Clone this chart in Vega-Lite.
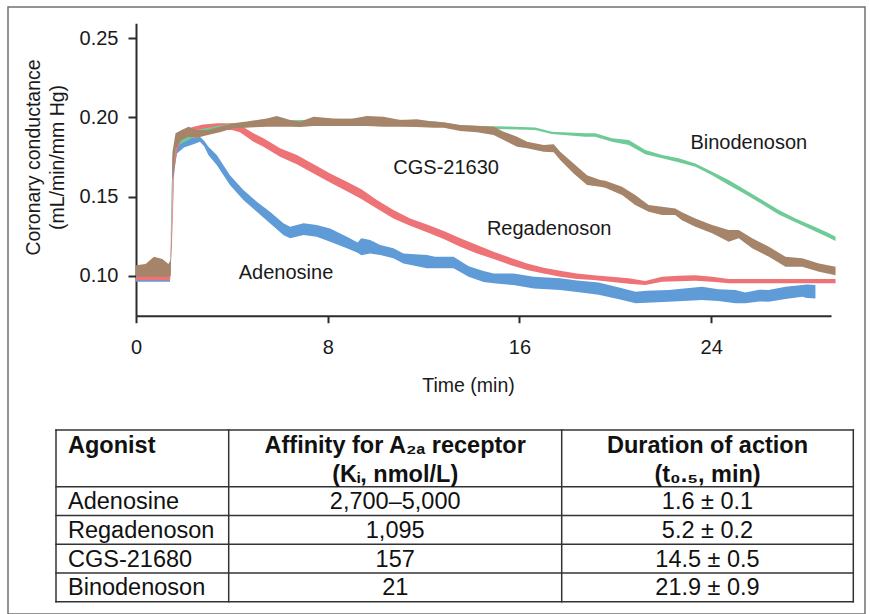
{
  "$schema": "https://vega.github.io/schema/vega-lite/v6.json",
  "width": 857,
  "height": 607,
  "autosize": {"type": "none"},
  "padding": {"left": 8, "top": 7, "right": 5, "bottom": 0},
  "background": "white",
  "config": {
    "font": "Liberation Sans",
    "view": {"stroke": "#707070", "strokeWidth": 1.5},
    "axis": {
      "grid": false,
      "domainColor": "#2b2b2b",
      "tickColor": "#2b2b2b",
      "domainWidth": 2,
      "tickWidth": 2,
      "labelColor": "#1a1a1a",
      "titleColor": "#1a1a1a",
      "labelFont": "Liberation Sans",
      "titleFont": "Liberation Sans",
      "labelFontSize": 20,
      "titleFontSize": 19.5,
      "titleFontWeight": "normal",
      "labelFlush": false
    },
    "text": {"font": "Liberation Sans"}
  },
  "datasets": {
    "adenosine": [
      {"t": 0, "lo": 0.0962, "hi": 0.0995},
      {"t": 1.0, "lo": 0.0962, "hi": 0.0995},
      {"t": 1.42, "lo": 0.0962, "hi": 0.0995},
      {"t": 1.55, "lo": 0.160, "hi": 0.172},
      {"t": 1.7, "lo": 0.177, "hi": 0.184},
      {"t": 2.0, "lo": 0.181, "hi": 0.187},
      {"t": 2.4, "lo": 0.183, "hi": 0.187},
      {"t": 2.67, "lo": 0.1846, "hi": 0.1877},
      {"t": 2.85, "lo": 0.1815, "hi": 0.1850},
      {"t": 3.02, "lo": 0.1762, "hi": 0.1814},
      {"t": 3.37, "lo": 0.1699, "hi": 0.1762},
      {"t": 3.92, "lo": 0.1572, "hi": 0.1635},
      {"t": 4.48, "lo": 0.1478, "hi": 0.1541},
      {"t": 5.04, "lo": 0.1404, "hi": 0.1467},
      {"t": 5.59, "lo": 0.1331, "hi": 0.1404},
      {"t": 6.15, "lo": 0.1257, "hi": 0.1331},
      {"t": 6.43, "lo": 0.1236, "hi": 0.1309},
      {"t": 6.99, "lo": 0.1257, "hi": 0.1331},
      {"t": 7.54, "lo": 0.1246, "hi": 0.1320},
      {"t": 8.1, "lo": 0.1215, "hi": 0.1299},
      {"t": 8.8, "lo": 0.1173, "hi": 0.1246},
      {"t": 9.25, "lo": 0.1145, "hi": 0.1210},
      {"t": 9.4, "lo": 0.1130, "hi": 0.1236},
      {"t": 9.77, "lo": 0.1141, "hi": 0.1225},
      {"t": 10.19, "lo": 0.1131, "hi": 0.1194},
      {"t": 10.74, "lo": 0.1110, "hi": 0.1173},
      {"t": 11.16, "lo": 0.1078, "hi": 0.1141},
      {"t": 12.14, "lo": 0.1047, "hi": 0.1131},
      {"t": 12.48, "lo": 0.1047, "hi": 0.1120},
      {"t": 13.25, "lo": 0.1047, "hi": 0.1120},
      {"t": 13.88, "lo": 0.0994, "hi": 0.1060},
      {"t": 14.5, "lo": 0.0960, "hi": 0.1030},
      {"t": 14.92, "lo": 0.0952, "hi": 0.1015},
      {"t": 15.75, "lo": 0.0941, "hi": 0.1015},
      {"t": 16.6, "lo": 0.0920, "hi": 0.0994},
      {"t": 17.7, "lo": 0.0910, "hi": 0.0984},
      {"t": 18.4, "lo": 0.0897, "hi": 0.0970},
      {"t": 19.3, "lo": 0.0880, "hi": 0.0957},
      {"t": 20.2, "lo": 0.0850, "hi": 0.0925},
      {"t": 20.85, "lo": 0.0826, "hi": 0.0899},
      {"t": 21.3, "lo": 0.0830, "hi": 0.0905},
      {"t": 22.23, "lo": 0.0836, "hi": 0.0910},
      {"t": 23.62, "lo": 0.0847, "hi": 0.0931},
      {"t": 24.3, "lo": 0.0840, "hi": 0.0915},
      {"t": 25.01, "lo": 0.0826, "hi": 0.0910},
      {"t": 25.43, "lo": 0.0826, "hi": 0.0895},
      {"t": 26.0, "lo": 0.0838, "hi": 0.0912},
      {"t": 26.4, "lo": 0.0836, "hi": 0.0910},
      {"t": 27.1, "lo": 0.0853, "hi": 0.0931},
      {"t": 27.8, "lo": 0.0867, "hi": 0.0941},
      {"t": 28.0, "lo": 0.0860, "hi": 0.0945},
      {"t": 28.35, "lo": 0.0857, "hi": 0.0941}
    ],
    "regadenoson": [
      {"t": 0, "lo": 0.0972, "hi": 0.1000},
      {"t": 1.0, "lo": 0.0972, "hi": 0.1000},
      {"t": 1.42, "lo": 0.0972, "hi": 0.1000},
      {"t": 1.5, "lo": 0.120, "hi": 0.135},
      {"t": 1.6, "lo": 0.168, "hi": 0.180},
      {"t": 1.75, "lo": 0.181, "hi": 0.188},
      {"t": 2.0, "lo": 0.186, "hi": 0.192},
      {"t": 2.4, "lo": 0.189, "hi": 0.194},
      {"t": 2.8, "lo": 0.1915, "hi": 0.1955},
      {"t": 3.4, "lo": 0.1920, "hi": 0.1962},
      {"t": 4.0, "lo": 0.1920, "hi": 0.1962},
      {"t": 4.34, "lo": 0.1905, "hi": 0.1951},
      {"t": 4.9, "lo": 0.1846, "hi": 0.1899},
      {"t": 5.32, "lo": 0.1814, "hi": 0.1867},
      {"t": 6.01, "lo": 0.1751, "hi": 0.1804},
      {"t": 6.71, "lo": 0.1703, "hi": 0.1762},
      {"t": 7.41, "lo": 0.1646, "hi": 0.1703},
      {"t": 8.1, "lo": 0.1589, "hi": 0.1646},
      {"t": 8.8, "lo": 0.1534, "hi": 0.1593},
      {"t": 9.42, "lo": 0.1483, "hi": 0.1544},
      {"t": 10.05, "lo": 0.1425, "hi": 0.1478},
      {"t": 10.74, "lo": 0.1362, "hi": 0.1415},
      {"t": 11.44, "lo": 0.1316, "hi": 0.1362},
      {"t": 12.14, "lo": 0.1274, "hi": 0.1324},
      {"t": 12.84, "lo": 0.1232, "hi": 0.1282},
      {"t": 13.53, "lo": 0.1183, "hi": 0.1236},
      {"t": 14.23, "lo": 0.1141, "hi": 0.1194},
      {"t": 14.92, "lo": 0.1105, "hi": 0.1151},
      {"t": 15.62, "lo": 0.1068, "hi": 0.1114},
      {"t": 16.32, "lo": 0.1036, "hi": 0.1078},
      {"t": 17.01, "lo": 0.1015, "hi": 0.1050},
      {"t": 17.7, "lo": 0.0994, "hi": 0.1032},
      {"t": 18.4, "lo": 0.0979, "hi": 0.1015},
      {"t": 19.1, "lo": 0.0973, "hi": 0.1004},
      {"t": 20.56, "lo": 0.0950, "hi": 0.0984},
      {"t": 21.25, "lo": 0.0941, "hi": 0.0967},
      {"t": 21.95, "lo": 0.0962, "hi": 0.0994},
      {"t": 22.64, "lo": 0.0966, "hi": 0.1000},
      {"t": 23.34, "lo": 0.0968, "hi": 0.1004},
      {"t": 24.04, "lo": 0.0962, "hi": 0.0994},
      {"t": 24.73, "lo": 0.0952, "hi": 0.0979},
      {"t": 26.13, "lo": 0.0952, "hi": 0.0979},
      {"t": 27.52, "lo": 0.0952, "hi": 0.0979},
      {"t": 29.19, "lo": 0.0952, "hi": 0.0979}
    ],
    "binodenoson": [
      {"t": 0, "lo": 0.1000, "hi": 0.1050},
      {"t": 1.42, "lo": 0.1000, "hi": 0.1050},
      {"t": 1.52, "lo": 0.165, "hi": 0.175},
      {"t": 1.7, "lo": 0.182, "hi": 0.188},
      {"t": 2.5, "lo": 0.188, "hi": 0.192},
      {"t": 4.0, "lo": 0.193, "hi": 0.196},
      {"t": 6.0, "lo": 0.195, "hi": 0.198},
      {"t": 9.0, "lo": 0.196, "hi": 0.199},
      {"t": 11.0, "lo": 0.1955, "hi": 0.1985},
      {"t": 12.5, "lo": 0.1945, "hi": 0.1975},
      {"t": 13.5, "lo": 0.1928, "hi": 0.1950},
      {"t": 14.3, "lo": 0.1928, "hi": 0.1945},
      {"t": 15.5, "lo": 0.1925, "hi": 0.1942},
      {"t": 16.66, "lo": 0.1919, "hi": 0.1936},
      {"t": 17.35, "lo": 0.1894, "hi": 0.1909},
      {"t": 18.75, "lo": 0.1877, "hi": 0.1899},
      {"t": 19.16, "lo": 0.1877, "hi": 0.1899},
      {"t": 19.86, "lo": 0.1846, "hi": 0.1867},
      {"t": 20.56, "lo": 0.1825, "hi": 0.1856},
      {"t": 21.25, "lo": 0.1766, "hi": 0.1793},
      {"t": 21.95, "lo": 0.1741, "hi": 0.1762},
      {"t": 22.64, "lo": 0.1716, "hi": 0.1741},
      {"t": 23.34, "lo": 0.1688, "hi": 0.1709},
      {"t": 24.04, "lo": 0.1635, "hi": 0.1656},
      {"t": 24.73, "lo": 0.1572, "hi": 0.1604},
      {"t": 25.43, "lo": 0.1514, "hi": 0.1541},
      {"t": 26.13, "lo": 0.1451, "hi": 0.1478},
      {"t": 26.82, "lo": 0.1387, "hi": 0.1415},
      {"t": 27.52, "lo": 0.1337, "hi": 0.1362},
      {"t": 28.22, "lo": 0.1288, "hi": 0.1316},
      {"t": 28.92, "lo": 0.1240, "hi": 0.1268},
      {"t": 29.19, "lo": 0.1219, "hi": 0.1246}
    ],
    "cgs": [
      {"t": 0, "lo": 0.0994, "hi": 0.1066},
      {"t": 0.4, "lo": 0.0994, "hi": 0.1075},
      {"t": 0.75, "lo": 0.0994, "hi": 0.1120},
      {"t": 1.1, "lo": 0.0994, "hi": 0.1105},
      {"t": 1.35, "lo": 0.0994, "hi": 0.1075},
      {"t": 1.45, "lo": 0.1000, "hi": 0.1100},
      {"t": 1.52, "lo": 0.160, "hi": 0.178},
      {"t": 1.65, "lo": 0.180, "hi": 0.190},
      {"t": 1.9, "lo": 0.1857, "hi": 0.1920},
      {"t": 2.2, "lo": 0.1877, "hi": 0.1940},
      {"t": 2.5, "lo": 0.1870, "hi": 0.1920},
      {"t": 3.0, "lo": 0.1888, "hi": 0.1920},
      {"t": 3.5, "lo": 0.1905, "hi": 0.1940},
      {"t": 4.06, "lo": 0.1930, "hi": 0.1962},
      {"t": 4.7, "lo": 0.1935, "hi": 0.1975},
      {"t": 5.46, "lo": 0.1940, "hi": 0.1993},
      {"t": 5.87, "lo": 0.1940, "hi": 0.2008},
      {"t": 6.4, "lo": 0.1940, "hi": 0.1985},
      {"t": 6.85, "lo": 0.1938, "hi": 0.1972},
      {"t": 7.41, "lo": 0.1945, "hi": 0.2003},
      {"t": 8.24, "lo": 0.1945, "hi": 0.1993},
      {"t": 9.0, "lo": 0.1945, "hi": 0.1990},
      {"t": 9.63, "lo": 0.1945, "hi": 0.2008},
      {"t": 10.33, "lo": 0.1940, "hi": 0.2003},
      {"t": 11.02, "lo": 0.1940, "hi": 0.1983},
      {"t": 11.72, "lo": 0.1938, "hi": 0.1987},
      {"t": 12.41, "lo": 0.1934, "hi": 0.1972},
      {"t": 12.84, "lo": 0.1934, "hi": 0.1968},
      {"t": 13.53, "lo": 0.1913, "hi": 0.1951},
      {"t": 14.23, "lo": 0.1905, "hi": 0.1947},
      {"t": 14.92, "lo": 0.1888, "hi": 0.1940},
      {"t": 15.34, "lo": 0.1856, "hi": 0.1909},
      {"t": 15.9, "lo": 0.1814, "hi": 0.1877},
      {"t": 16.32, "lo": 0.1804, "hi": 0.1846},
      {"t": 17.01, "lo": 0.1782, "hi": 0.1825},
      {"t": 17.43, "lo": 0.1780, "hi": 0.1830},
      {"t": 17.7, "lo": 0.1730, "hi": 0.1782},
      {"t": 18.26, "lo": 0.1646, "hi": 0.1709},
      {"t": 18.82, "lo": 0.1572, "hi": 0.1635},
      {"t": 19.37, "lo": 0.1562, "hi": 0.1604},
      {"t": 19.58, "lo": 0.1555, "hi": 0.1600},
      {"t": 20.28, "lo": 0.1509, "hi": 0.1562},
      {"t": 20.83, "lo": 0.1446, "hi": 0.1509},
      {"t": 21.39, "lo": 0.1404, "hi": 0.1446},
      {"t": 21.95, "lo": 0.1383, "hi": 0.1435},
      {"t": 22.5, "lo": 0.1383, "hi": 0.1425},
      {"t": 22.78, "lo": 0.1350, "hi": 0.1400},
      {"t": 23.34, "lo": 0.1309, "hi": 0.1362},
      {"t": 24.04, "lo": 0.1268, "hi": 0.1320},
      {"t": 24.73, "lo": 0.1215, "hi": 0.1288},
      {"t": 25.15, "lo": 0.1236, "hi": 0.1288},
      {"t": 25.71, "lo": 0.1173, "hi": 0.1236},
      {"t": 26.41, "lo": 0.1120, "hi": 0.1183},
      {"t": 27.1, "lo": 0.1057, "hi": 0.1120},
      {"t": 27.8, "lo": 0.1057, "hi": 0.1110},
      {"t": 28.5, "lo": 0.1025, "hi": 0.1078},
      {"t": 29.19, "lo": 0.1004, "hi": 0.1057}
    ],
    "labels": [
      {"t": 6.26, "v": 0.1020, "label": "Adenosine"},
      {"t": 12.94, "v": 0.1682, "label": "CGS-21630"},
      {"t": 17.24, "v": 0.1297, "label": "Regadenoson"},
      {"t": 25.57, "v": 0.1840, "label": "Binodenoson"}
    ],
    "table": [
      {"r": 0, "agonist": "Agonist", "affinity": "Affinity for A₂ₐ receptor\n(Kᵢ, nmol/L)", "duration": "Duration of action\n(t₀.₅, min)"},
      {"r": 1, "agonist": "Adenosine", "affinity": "2,700–5,000", "duration": "1.6 ± 0.1"},
      {"r": 2, "agonist": "Regadenoson", "affinity": "1,095", "duration": "5.2 ± 0.2"},
      {"r": 3, "agonist": "CGS-21680", "affinity": "157", "duration": "14.5 ± 0.5"},
      {"r": 4, "agonist": "Binodenoson", "affinity": "21", "duration": "21.9 ± 0.9"}
    ]
  },
  "layer": [
    {
      "layer": [
        {
          "data": {"name": "adenosine"},
          "mark": {"type": "area", "color": "#5f9bd7"},
          "encoding": {
            "x": {
              "field": "t", "type": "quantitative",
              "scale": {"domain": [0, 29.0], "range": [128, 823], "nice": false, "zero": false},
              "axis": {
                "values": [0, 8, 16, 24], "format": "d", "offset": -298.3,
                "tickSize": 7, "labelPadding": 15,
                "title": "Time (min)", "titleX": 460, "titleY": 75.3,
                "titleBaseline": "alphabetic", "titleAlign": "center"
              }
            },
            "y": {
              "field": "hi", "type": "quantitative",
              "scale": {"domain": [0.0748, 0.2593], "range": [308.7, 16.3], "nice": false, "zero": false},
              "axis": {
                "values": [0.10, 0.15, 0.20, 0.25], "format": ".2f", "offset": -128,
                "tickSize": 8, "labelPadding": 10,
                "title": ["Coronary conductance", "(mL/min/mm Hg)"],
                "titleAngle": 270, "titleX": -96.5, "titleY": 150,
                "titleBaseline": "alphabetic", "titleAlign": "center", "titleLineHeight": 23.5
              }
            },
            "y2": {"field": "lo"}
          }
        },
        {
          "data": {"name": "regadenoson"},
          "mark": {"type": "area", "color": "#ee7376"},
          "encoding": {
            "x": {"field": "t", "type": "quantitative"},
            "y": {"field": "hi", "type": "quantitative"},
            "y2": {"field": "lo"}
          }
        },
        {
          "data": {"name": "binodenoson"},
          "mark": {"type": "area", "color": "#6eca96"},
          "encoding": {
            "x": {"field": "t", "type": "quantitative"},
            "y": {"field": "hi", "type": "quantitative"},
            "y2": {"field": "lo"}
          }
        },
        {
          "data": {"name": "cgs"},
          "mark": {"type": "area", "color": "#a68469"},
          "encoding": {
            "x": {"field": "t", "type": "quantitative"},
            "y": {"field": "hi", "type": "quantitative"},
            "y2": {"field": "lo"}
          }
        },
        {
          "data": {"name": "labels"},
          "mark": {"type": "text", "fontSize": 20, "color": "#1a1a1a", "align": "center", "baseline": "middle"},
          "encoding": {
            "x": {"field": "t", "type": "quantitative"},
            "y": {"field": "v", "type": "quantitative"},
            "text": {"field": "label"}
          }
        }
      ]
    },
    {
      "data": {"name": "table"},
      "layer": [
        {
          "mark": {"type": "rule", "color": "#333333", "strokeWidth": 1.5, "strokeCap": "square"},
          "encoding": {
            "x": {"datum": 0, "type": "quantitative", "scale": {"domain": [0, 1, 2, 3], "range": [48, 220.7, 553.7, 845.3], "nice": false, "zero": false}, "axis": null},
            "x2": {"datum": 3},
            "y": {"field": "r", "type": "quantitative", "scale": {"domain": [0, 1, 5], "range": [423, 479.7, 594.7], "nice": false, "zero": false}, "axis": null}
          }
        },
        {
          "data": {"values": [{"b": 5}]},
          "mark": {"type": "rule", "color": "#333333", "strokeWidth": 1.5, "strokeCap": "square"},
          "encoding": {
            "x": {"datum": 0, "type": "quantitative"},
            "x2": {"datum": 3},
            "y": {"field": "b", "type": "quantitative"}
          }
        },
        {
          "data": {"values": [{"c": 0}, {"c": 1}, {"c": 2}, {"c": 3}]},
          "mark": {"type": "rule", "color": "#333333", "strokeWidth": 1.5, "strokeCap": "square"},
          "encoding": {
            "x": {"field": "c", "type": "quantitative"},
            "y": {"datum": 0, "type": "quantitative"},
            "y2": {"datum": 5}
          }
        },
        {
          "transform": [{"filter": "datum.r == 0"}],
          "mark": {"type": "text", "align": "left", "baseline": "line-top", "lineHeight": 29, "lineBreak": "\n", "fontSize": 23.5, "fontWeight": "bold", "dx": 12, "dy": 1.5, "color": "#111111"},
          "encoding": {
            "x": {"datum": 0, "type": "quantitative"},
            "y": {"field": "r", "type": "quantitative"},
            "text": {"field": "agonist"}
          }
        },
        {
          "transform": [{"filter": "datum.r == 0"}],
          "mark": {"type": "text", "align": "center", "baseline": "line-top", "lineHeight": 29, "lineBreak": "\n", "fontSize": 23.5, "fontWeight": "bold", "dy": 1.5, "color": "#111111"},
          "encoding": {
            "x": {"datum": 1.5, "type": "quantitative"},
            "y": {"field": "r", "type": "quantitative"},
            "text": {"field": "affinity"}
          }
        },
        {
          "transform": [{"filter": "datum.r == 0"}],
          "mark": {"type": "text", "align": "center", "baseline": "line-top", "lineHeight": 29, "lineBreak": "\n", "fontSize": 23.5, "fontWeight": "bold", "dy": 1.5, "color": "#111111"},
          "encoding": {
            "x": {"datum": 2.5, "type": "quantitative"},
            "y": {"field": "r", "type": "quantitative"},
            "text": {"field": "duration"}
          }
        },
        {
          "transform": [{"filter": "datum.r > 0"}],
          "mark": {"type": "text", "align": "left", "baseline": "line-top", "lineHeight": 29, "fontSize": 23.5, "dx": 12, "dy": 1.5, "color": "#111111"},
          "encoding": {
            "x": {"datum": 0, "type": "quantitative"},
            "y": {"field": "r", "type": "quantitative"},
            "text": {"field": "agonist"}
          }
        },
        {
          "transform": [{"filter": "datum.r > 0"}],
          "mark": {"type": "text", "align": "center", "baseline": "line-top", "lineHeight": 29, "fontSize": 23.5, "dy": 1.5, "color": "#111111"},
          "encoding": {
            "x": {"datum": 1.5, "type": "quantitative"},
            "y": {"field": "r", "type": "quantitative"},
            "text": {"field": "affinity"}
          }
        },
        {
          "transform": [{"filter": "datum.r > 0"}],
          "mark": {"type": "text", "align": "center", "baseline": "line-top", "lineHeight": 29, "fontSize": 23.5, "dy": 1.5, "color": "#111111"},
          "encoding": {
            "x": {"datum": 2.5, "type": "quantitative"},
            "y": {"field": "r", "type": "quantitative"},
            "text": {"field": "duration"}
          }
        }
      ]
    }
  ],
  "resolve": {"scale": {"x": "independent", "y": "independent"}}
}
